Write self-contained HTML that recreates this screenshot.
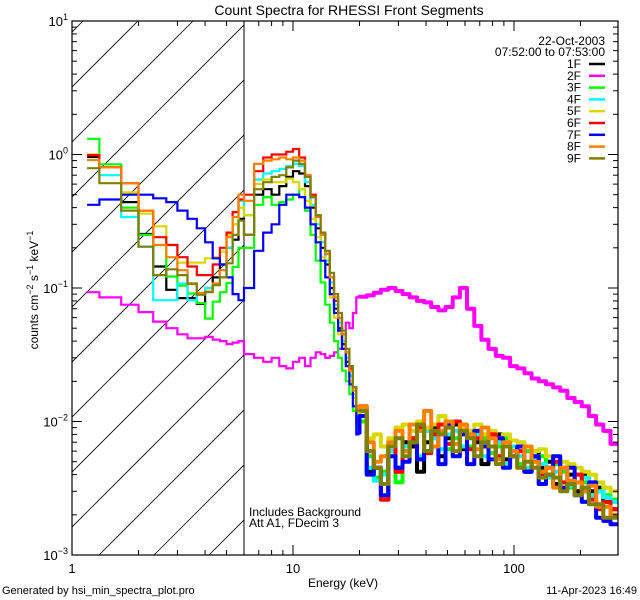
<!DOCTYPE html>
<html><head><meta charset="utf-8"><style>
html,body{margin:0;padding:0;background:#fff;}
svg{display:block;font-family:"Liberation Sans",sans-serif;}
</style></head><body>
<svg id="chart" width="640" height="600" viewBox="0 0 640 600" xmlns="http://www.w3.org/2000/svg">
<rect width="640" height="600" fill="#fff"/>
<defs><clipPath id="pc"><rect x="72" y="21" width="546" height="534"/></clipPath>
<clipPath id="hc"><rect x="72" y="21" width="172" height="534"/></clipPath></defs>
<text x="349" y="15" font-size="14" text-anchor="middle">Count Spectra for RHESSI Front Segments</text>
<g id="hatch" clip-path="url(#hc)"></g>
<line x1="244" y1="21" x2="244" y2="555" stroke="#000" stroke-width="1"/>
<g id="series" clip-path="url(#pc)"></g>
<g id="axes"></g>
<g font-size="12" text-anchor="end">
<text x="605" y="45">22-Oct-2003</text>
<text x="605" y="56">07:52:00 to 07:53:00</text>
<g id="legend"></g>
</g>
<text x="249" y="516" font-size="12">Includes Background</text>
<text x="249" y="527" font-size="12">Att A1, FDecim  3</text>
<text x="343" y="587" font-size="12" text-anchor="middle">Energy (keV)</text>
<text transform="translate(38,290) rotate(-90)" font-size="12" text-anchor="middle">counts cm<tspan dy="-5" font-size="9">−2</tspan><tspan dy="5"> s</tspan><tspan dy="-5" font-size="9">−1</tspan><tspan dy="5"> keV</tspan><tspan dy="-5" font-size="9">−1</tspan></text>
<text x="2" y="594" font-size="11">Generated by hsi_min_spectra_plot.pro</text>
<text x="637" y="594" font-size="11" text-anchor="end">11-Apr-2023 16:49</text>
</svg>
<script>
const edges=[1.17,1.33,1.67,2,2.33,2.67,3,3.33,3.67,4,4.33,4.67,5,5.33,5.67,6,6.67,7.33,8,8.67,9.33,10,10.67,11.33,12,12.67,13.33,14,14.67,15.33,16,16.67,17.33,18,18.67,19.33,20,21.55,23.2,25,27,29.1,31.3,33.7,36.4,39.2,42.2,45.5,49,52.8,56.9,61.3,66.1,71.2,76.7,82.7,89.1,96,103.4,111.5,120.1,129.4,139.5,150.3,161.9,174.5,188,202.6,218.3,235.2,253.5,273.2,295];
const seriesNames=["1F","2F","3F","4F","5F","6F","7F","8F","9F"];
const seriesColors=["#000000","#ff00ff","#00ff00","#00ffff","#d8d800","#ff0000","#0000ff","#ff8000","#808000"];
const s1F=[0.96,0.80,0.44,0.254,0.145,0.097,0.084,0.084,0.076,0.10,0.12,0.15,0.2,0.23,0.33,
0.25,0.5,0.55,0.5,0.58,0.68,0.75,0.72,0.58,0.4,0.28,0.2,0.15,0.1,0.07,0.05,0.038,0.028,0.022,0.016,0.01,
0.012,0.0042,0.0045,0.0026,0.006,0.0045,0.007,0.0065,0.0042,0.007,0.009,0.0055,0.0075,0.0095,0.0062,0.0085,0.007,0.0048,0.0065,0.008,0.0052,0.006,0.0065,0.0042,0.006,0.0045,0.005,0.0034,0.0045,0.004,0.003,0.004,0.003,0.0032,0.0025,0.0022];
const s2F=[0.093,0.085,0.075,0.066,0.056,0.05,0.045,0.042,0.042,0.043,0.041,0.04,0.038,0.039,0.04,
0.032,0.03,0.028,0.03,0.026,0.025,0.028,0.03,0.026,0.03,0.033,0.032,0.03,0.031,0.033,0.035,0.045,0.055,0.05,0.065,0.085,
0.086,0.088,0.092,0.097,0.1,0.095,0.09,0.085,0.08,0.078,0.072,0.068,0.072,0.085,0.1,0.07,0.052,0.041,0.035,0.031,0.03,0.026,0.025,0.023,0.021,0.02,0.019,0.018,0.017,0.015,0.014,0.013,0.011,0.0095,0.0085,0.0068];
const s3F=[1.31,0.845,0.40,0.25,0.21,0.122,0.104,0.091,0.077,0.059,0.079,0.093,0.109,0.144,0.2,
0.2,0.42,0.48,0.42,0.44,0.46,0.5,0.55,0.38,0.25,0.16,0.11,0.075,0.055,0.04,0.03,0.024,0.02,0.016,0.012,0.009,
0.01,0.0055,0.0038,0.0042,0.0055,0.0035,0.0065,0.007,0.0085,0.0058,0.0085,0.008,0.0062,0.0075,0.009,0.0065,0.0085,0.0075,0.0058,0.0065,0.0075,0.006,0.0048,0.006,0.005,0.0055,0.004,0.0048,0.0042,0.0032,0.004,0.0035,0.0028,0.003,0.0028,0.0026];
const s4F=[0.91,0.70,0.34,0.204,0.081,0.081,0.108,0.081,0.09,0.1,0.108,0.12,0.2,0.3,0.45,
0.35,0.65,0.72,0.75,0.78,0.82,0.85,0.82,0.62,0.42,0.3,0.22,0.16,0.11,0.075,0.055,0.04,0.03,0.022,0.016,0.011,
0.011,0.0045,0.0036,0.004,0.006,0.0045,0.0065,0.0075,0.0055,0.0085,0.0075,0.0062,0.008,0.0085,0.0065,0.0075,0.008,0.0055,0.0075,0.007,0.0048,0.0065,0.0055,0.0045,0.0052,0.0048,0.0038,0.0042,0.0045,0.0033,0.0035,0.0038,0.0028,0.003,0.0027,0.0025];
const s5F=[1.0,0.80,0.52,0.36,0.29,0.21,0.155,0.155,0.155,0.167,0.17,0.187,0.25,0.3,0.4,
0.35,0.6,0.65,0.62,0.62,0.66,0.62,0.55,0.45,0.33,0.24,0.17,0.12,0.085,0.06,0.045,0.035,0.026,0.02,0.015,0.011,
0.012,0.0075,0.008,0.0065,0.0075,0.009,0.0095,0.0085,0.01,0.009,0.0095,0.011,0.0095,0.01,0.009,0.0085,0.0095,0.008,0.0085,0.0075,0.008,0.0072,0.007,0.0065,0.006,0.0062,0.0055,0.0055,0.005,0.0048,0.0045,0.0042,0.004,0.0035,0.0032,0.003];
const s6F=[0.99,0.80,0.61,0.38,0.24,0.21,0.17,0.145,0.125,0.125,0.15,0.2,0.26,0.37,0.46,
0.5,0.75,0.95,1.0,1.0,1.05,1.1,0.95,0.7,0.5,0.35,0.25,0.18,0.12,0.08,0.06,0.045,0.033,0.025,0.018,0.013,
0.013,0.006,0.0045,0.0026,0.0065,0.0042,0.006,0.0075,0.009,0.0058,0.008,0.0095,0.0068,0.01,0.0085,0.0062,0.0075,0.0065,0.008,0.0055,0.0065,0.0055,0.006,0.0042,0.0055,0.004,0.0045,0.005,0.0035,0.0035,0.004,0.003,0.0026,0.0022,0.0025,0.0022];
const s7F=[0.42,0.46,0.50,0.50,0.47,0.44,0.38,0.33,0.28,0.22,0.167,0.15,0.12,0.09,0.081,
0.10,0.19,0.26,0.30,0.42,0.50,0.50,0.48,0.40,0.30,0.22,0.16,0.12,0.09,0.065,0.048,0.035,0.026,0.019,0.013,0.008,
0.011,0.004,0.0045,0.0028,0.0055,0.0045,0.005,0.007,0.0052,0.006,0.0085,0.0048,0.0095,0.0055,0.008,0.0048,0.0085,0.0065,0.0052,0.0075,0.0045,0.0055,0.0065,0.0042,0.0055,0.0034,0.004,0.0055,0.0032,0.0045,0.0028,0.0025,0.0035,0.0019,0.0018,0.0017];
const s8F=[0.91,0.80,0.61,0.38,0.21,0.17,0.136,0.107,0.092,0.094,0.108,0.136,0.24,0.34,0.5,
0.45,0.85,0.9,0.92,0.95,0.92,0.95,0.9,0.7,0.48,0.34,0.25,0.18,0.12,0.085,0.06,0.045,0.033,0.024,0.017,0.012,
0.013,0.007,0.005,0.0055,0.007,0.0085,0.006,0.0095,0.0085,0.012,0.0065,0.0085,0.01,0.0068,0.0095,0.008,0.0062,0.009,0.0075,0.0052,0.007,0.006,0.0045,0.0065,0.005,0.0042,0.0045,0.0032,0.0045,0.0036,0.0035,0.003,0.0033,0.0023,0.0023,0.002];
const s9F=[0.79,0.61,0.38,0.204,0.125,0.138,0.125,0.108,0.089,0.093,0.105,0.12,0.153,0.25,0.32,
0.25,0.55,0.62,0.68,0.7,0.8,0.9,0.85,0.68,0.48,0.35,0.26,0.19,0.13,0.09,0.065,0.048,0.035,0.026,0.018,0.012,
0.012,0.006,0.0045,0.0034,0.0065,0.0075,0.0055,0.007,0.0095,0.006,0.0085,0.008,0.009,0.006,0.0085,0.0075,0.0055,0.007,0.0065,0.0048,0.0065,0.0055,0.0045,0.005,0.0045,0.0038,0.004,0.0038,0.003,0.0034,0.0028,0.0032,0.0024,0.0024,0.0019,0.0019];
const allSeries=[s1F,s2F,s3F,s4F,s5F,s6F,s7F,s8F,s9F];
const xTickMajor=[1,10,100];
const xTickLabels=["1","10","100"];
const yTickMajor=[-3,-2,-1,0,1];

const NS="http://www.w3.org/2000/svg";
const X0=72,X1=618,Y0=21,Y1=555,XD=221,YD=133.5;
function xs(e){return X0+XD*Math.log10(e);}
function ys(v){return Y0+(1-Math.log10(v))*YD;}
function mk(tag,attrs,parent){const el=document.createElementNS(NS,tag);for(const k in attrs)el.setAttribute(k,attrs[k]);parent.appendChild(el);return el;}

const hatch=document.getElementById('hatch');
for(let k=-10;k<4;k++){const bx=99+k*55;
const l=mk('line',{x1:bx,y1:Y1,x2:bx+534,y2:Y0,stroke:'#000','stroke-width':0.8},hatch);

}

const sg=document.getElementById('series');
const split=36;
allSeries.forEach((vals,si)=>{
  let d1='',d2='';
  for(let i=0;i<vals.length;i++){
    const xa=xs(edges[i]).toFixed(1),xb=xs(edges[i+1]).toFixed(1),y=ys(vals[i]).toFixed(1);
    if(i<split){d1+=(i===0?'M':'L')+xa+' '+y+'L'+xb+' '+y;}
    else{if(i===split){d2+='M'+xa+' '+ys(vals[i-1]).toFixed(1);}d2+='L'+xa+' '+y+'L'+xb+' '+y;}
  }
  const g=mk('g',{},sg);
  
  
  mk('path',{d:d1,fill:'none',stroke:seriesColors[si],'stroke-width':2.2,'stroke-linejoin':'miter'},g);
  mk('path',{d:d2,fill:'none',stroke:seriesColors[si],'stroke-width':4,'stroke-linejoin':'round'},g);
});

const ax=document.getElementById('axes');
const frame=mk('rect',{x:X0,y:Y0,width:X1-X0,height:Y1-Y0,fill:'none',stroke:'#000','stroke-width':1.2},ax);


for(let dec=0;dec<3;dec++){for(let m=1;m<10;m++){const e=m*Math.pow(10,dec);if(e>295)continue;const x=xs(e);const L=m===1?10:5;
mk('line',{x1:x,y1:Y1,x2:x,y2:Y1-L,stroke:'#000'},ax);mk('line',{x1:x,y1:Y0,x2:x,y2:Y0+L,stroke:'#000'},ax);}}
xTickMajor.forEach((e,i)=>{const t=mk('text',{x:xs(e),y:573,'font-size':13,'text-anchor':'middle'},ax);t.textContent=xTickLabels[i];

});
yTickMajor.forEach(p=>{const y=ys(Math.pow(10,p));
mk('line',{x1:X0,y1:y,x2:X0+10,y2:y,stroke:'#000'},ax);mk('line',{x1:X1,y1:y,x2:X1-10,y2:y,stroke:'#000'},ax);
if(p<1){for(let m=2;m<10;m++){const ym=ys(m*Math.pow(10,p));mk('line',{x1:X0,y1:ym,x2:X0+5,y2:ym,stroke:'#000'},ax);mk('line',{x1:X1,y1:ym,x2:X1-5,y2:ym,stroke:'#000'},ax);}}
const t=mk('text',{x:X0-4,y:y+5,'font-size':13,'text-anchor':'end'},ax);


t.innerHTML='10<tspan dy="-6" font-size="9">'+(p<0?'−'+(-p):p)+'</tspan>';});

const lg=document.getElementById('legend');
seriesNames.forEach((n,i)=>{const y=68+i*11.8;const g=mk('g',{},lg);


const t=mk('text',{x:581,y:y},g);t.textContent=n;
mk('line',{x1:589,y1:y-4,x2:605,y2:y-4,stroke:seriesColors[i],'stroke-width':2.5},g);});
</script>
</body></html>
